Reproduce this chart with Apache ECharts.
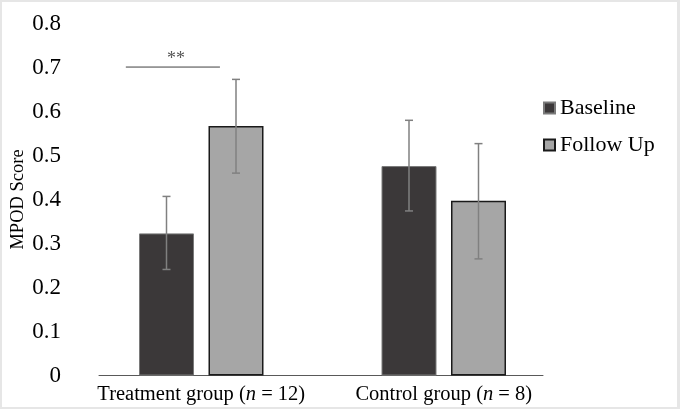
<!DOCTYPE html>
<html>
<head>
<meta charset="utf-8">
<script src="https://cdn.jsdelivr.net/npm/echarts@6/dist/echarts.min.js"></script>
<style>
html,body{margin:0;padding:0;background:#fff;}
#wrap{position:relative;width:680px;height:409px;}
#chart{width:680px;height:409px;}
#frame{position:absolute;left:0;top:0;width:680px;height:409px;box-sizing:border-box;border:2px solid #e6e6e6;border-right-width:3px;pointer-events:none;}
</style>
</head>
<body>
<div id="wrap"><div id="chart"></div><div id="frame"></div></div>
<script>
// ---- data ----
const categories = ['Treatment group (n = 12)', 'Control group (n = 8)'];
const seriesNames = ['Baseline', 'Follow Up'];
const baselineMeans = [0.323, 0.476];
const followUpMeans = [0.567, 0.397];
const baselineLow = [0.241, 0.374];
const baselineHigh = [0.407, 0.580];
const followUpLow = [0.460, 0.265];
const followUpHigh = [0.673, 0.527];
const sigCategory = 0;
const sigLevel = 0.701;
const sigLabel = '**';
const yTicks = [0, 0.1, 0.2, 0.3, 0.4, 0.5, 0.6, 0.7, 0.8];

const FONT = '"Liberation Serif", "Times New Roman", serif';
const BAR_W = 55;
const GAP_PX = 14.5;
const OFFSET = (BAR_W + GAP_PX) / 2;

function errorSeries(name, low, high, sign) {
  return {
    type: 'custom',
    name: name,
    xAxisIndex: 0, yAxisIndex: 0,
    z: 5,
    silent: true,
    data: low.map((l, i) => [i, l, high[i]]),
    renderItem: function (params, api) {
      const c = api.value(0);
      const pLow = api.coord([c, api.value(1)]);
      const pHigh = api.coord([c, api.value(2)]);
      const x = pLow[0] + sign * OFFSET;
      const cap = 4;
      const style = { stroke: '#808080', lineWidth: 1.5 };
      return {
        type: 'group',
        children: [
          { type: 'line', shape: { x1: x, y1: pLow[1], x2: x, y2: pHigh[1] }, style: style },
          { type: 'line', shape: { x1: x - cap, y1: pLow[1], x2: x + cap, y2: pLow[1] }, style: style },
          { type: 'line', shape: { x1: x - cap, y1: pHigh[1], x2: x + cap, y2: pHigh[1] }, style: style }
        ]
      };
    }
  };
}

const chart = echarts.init(document.getElementById('chart'), null, { renderer: 'canvas' });
chart.setOption({
  animation: false,
  backgroundColor: '#ffffff',
  textStyle: { fontFamily: FONT },
  legend: {
    data: seriesNames,
    orient: 'vertical',
    left: 543,
    top: 97,
    padding: 0,
    itemWidth: 11,
    itemHeight: 11,
    itemGap: 15,
    icon: 'rect',
    textStyle: { fontFamily: FONT, fontSize: 22, color: '#000' }
  },
  grid: [
    { left: 80, right: 115, top: 23.5, bottom: 33.5, outerBoundsMode: 'none', containLabel: false },
    { left: 99, right: 137, top: 23.5, bottom: 33.5, outerBoundsMode: 'none', containLabel: false }
  ],
  xAxis: [
    {
      type: 'category', gridIndex: 0, data: categories,
      axisLine: { show: false }, axisTick: { show: false },
      axisLabel: {
        margin: 9,
        formatter: function (v) {
          const parts = v.split('(n');
          return '{a|' + parts[0] + '(}{i|n}{a|' + parts[1] + '}';
        },
        rich: {
          a: { fontFamily: FONT, fontSize: 20.5, color: '#000' },
          i: { fontFamily: FONT, fontSize: 20.5, color: '#000', fontStyle: 'italic' }
        }
      }
    },
    {
      type: 'category', gridIndex: 1, data: categories,
      axisLine: { show: true, lineStyle: { color: '#595959', width: 1 } },
      axisTick: { show: false }, axisLabel: { show: false }
    }
  ],
  yAxis: [
    {
      type: 'value', gridIndex: 0, min: 0, max: 0.8, interval: 0.1,
      name: 'MPOD Score', nameLocation: 'middle', nameRotate: 90, nameGap: 52,
      nameMoveOverlap: false,
      nameTextStyle: { fontFamily: FONT, fontSize: 18.5, color: '#000' },
      axisLine: { show: false }, axisTick: { show: false }, splitLine: { show: false },
      axisLabel: {
        margin: 19, fontFamily: FONT, fontSize: 23, color: '#000',
        formatter: function (v) {
          const t = yTicks.find(k => Math.abs(k - v) < 1e-9);
          return String(t !== undefined ? t : v);
        }
      }
    },
    { type: 'value', gridIndex: 1, min: 0, max: 0.8, show: false }
  ],
  series: [
    {
      type: 'bar', name: seriesNames[0], data: baselineMeans,
      barWidth: BAR_W, barGap: (GAP_PX / BAR_W * 100) + '%',
      itemStyle: { color: '#3b3839', borderColor: '#7a7a7a', borderWidth: 1 },
      z: 3
    },
    {
      type: 'bar', name: seriesNames[1], data: followUpMeans,
      barWidth: BAR_W,
      itemStyle: { color: '#a6a6a6', borderColor: '#1a1a1a', borderWidth: 1.5 },
      z: 3
    },
    errorSeries('Baseline SE', baselineLow, baselineHigh, -1),
    errorSeries('Follow Up SE', followUpLow, followUpHigh, 1),
    {
      type: 'custom', name: 'significance', silent: true, z: 6,
      data: [[sigCategory, sigLevel]],
      renderItem: function (params, api) {
        const p = api.coord([api.value(0), api.value(1)]);
        const band = api.size([1, 0])[0];
        const x1 = p[0] - 0.311 * band;
        const x2 = p[0] + 0.077 * band;
        return {
          type: 'group',
          children: [
            { type: 'line', shape: { x1: x1, y1: p[1], x2: x2, y2: p[1] }, style: { stroke: '#404040', lineWidth: 1 } },
            { type: 'text', x: (x1 + x2) / 2 + 3, y: p[1] + 1,
              style: { text: sigLabel, fill: '#555', font: '18px ' + FONT, align: 'center', verticalAlign: 'bottom' } }
          ]
        };
      }
    }
  ]
});
</script>
</body>
</html>
